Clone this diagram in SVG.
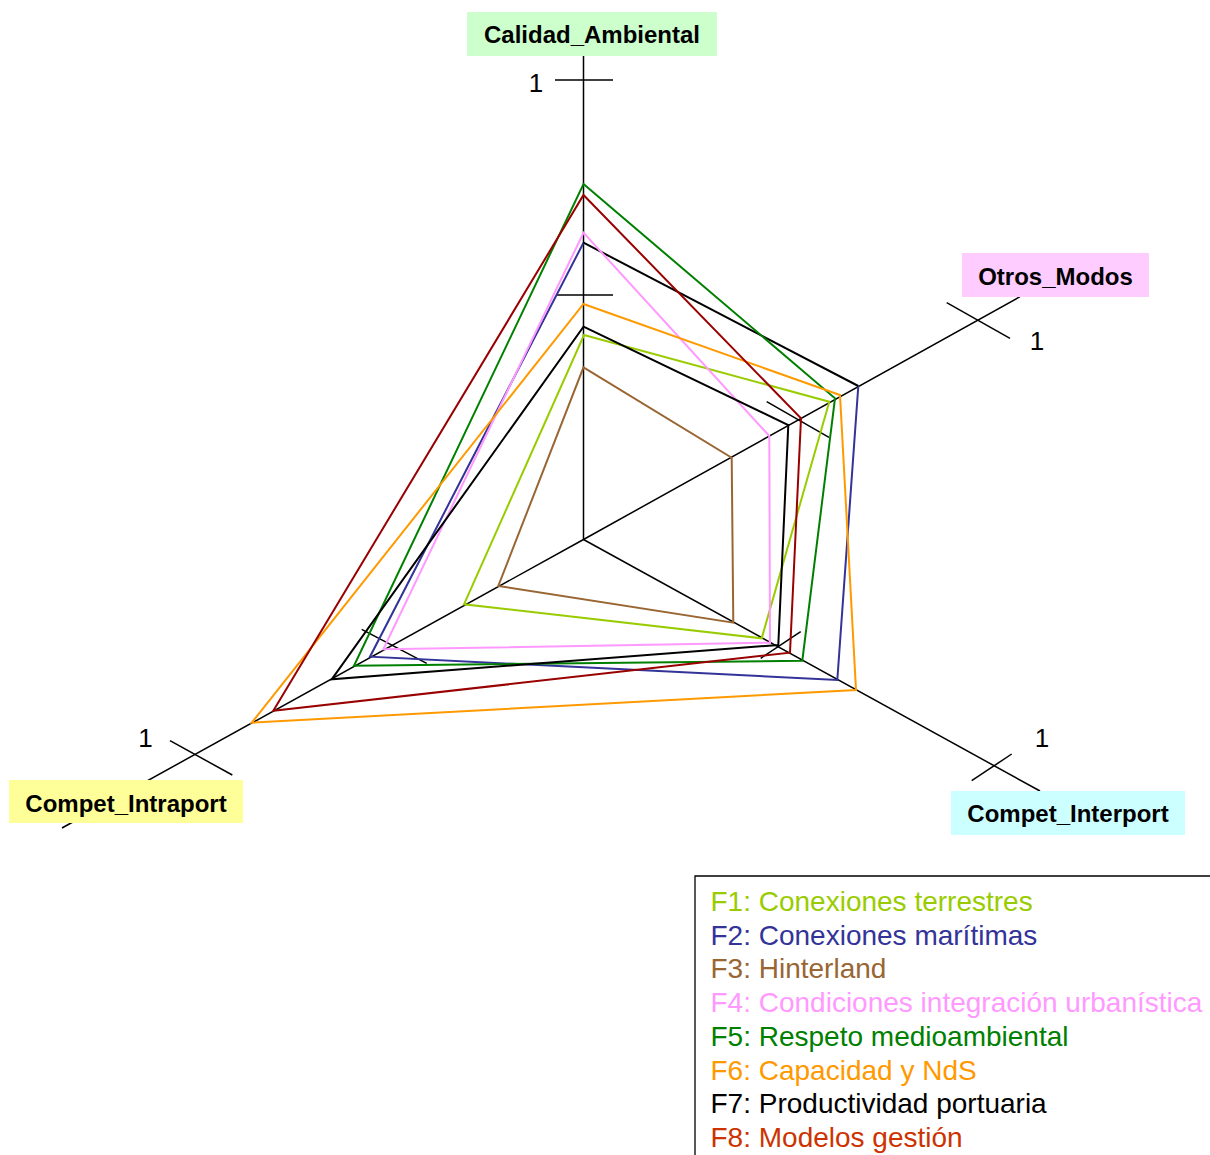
<svg xmlns="http://www.w3.org/2000/svg" width="1210" height="1155" viewBox="0 0 1210 1155">
  <style>
    .axis { stroke: #000; stroke-width: 1.5; fill: none; }
    .series { fill: none; stroke-width: 2; stroke-linejoin: miter; }
    .lbl { font-family: "Liberation Sans", Arial, sans-serif; font-weight: bold; font-size: 24px; fill: #000; text-anchor: middle; }
    .one { font-family: "Liberation Sans", Arial, sans-serif; font-size: 26px; fill: #000; text-anchor: middle; }
    .leg { font-family: "Liberation Sans", Arial, sans-serif; font-size: 28px; }
  </style>
  <rect width="1210" height="1155" fill="#fff"/>

  <!-- axes and tick marks -->
  <g id="axes">
    <line class="axis" x1="583.5" y1="539.5" x2="583.5" y2="56"/>
    <line class="axis" x1="583.5" y1="539.5" x2="1020" y2="296.7"/>
    <line class="axis" x1="583.5" y1="539.5" x2="1040" y2="791"/>
    <line class="axis" x1="583.5" y1="539.5" x2="62" y2="828"/>
    <!-- full scale ticks -->
    <line class="axis" x1="555" y1="80" x2="613" y2="80"/>
    <line class="axis" x1="946.7" y1="302.7" x2="1010" y2="338.3"/>
    <line class="axis" x1="971.7" y1="780.7" x2="1011.7" y2="754"/>
    <line class="axis" x1="170" y1="740.7" x2="232.3" y2="775"/>
    <!-- mid ticks -->
    <line class="axis" x1="556" y1="295" x2="613" y2="295"/>
    <line class="axis" x1="766.7" y1="401.7" x2="829" y2="437.3"/>
    <line class="axis" x1="760.7" y1="658.3" x2="800.7" y2="631.7"/>
    <line class="axis" x1="361.7" y1="629.3" x2="426.7" y2="663.3"/>
    <!-- scale values -->
    <text class="one" x="536" y="92">1</text>
    <text class="one" x="1037" y="350">1</text>
    <text class="one" x="1042" y="747">1</text>
    <text class="one" x="145.5" y="747">1</text>
  </g>

  <!-- data series -->
  <g id="connectors">
    <polygon id="f1" class="series" stroke="#99cc00" points="584,335 829.3,401.7 761.7,638.3 464,604.3"/>
    <polyline id="f2" class="series" stroke="#333399" points="858.3,386 837.3,680 370,656.7 583.5,242.7"/>
    <line class="series" stroke="#000" x1="583.5" y1="242.7" x2="858.3" y2="386"/>
    <polygon id="f3" class="series" stroke="#996633" points="583.5,367.3 731.7,457.7 733.3,622.7 498.3,586"/>
    <polygon id="f4" class="series" stroke="#ff99ff" points="583.5,232.7 769.3,436 770,642.7 383.3,649.3"/>
    <polygon id="f5" class="series" stroke="#008000" points="583.5,184 835,398.3 802.3,660.7 354,665.7"/>
    <polygon id="f6" class="series" stroke="#ff9900" points="583.5,304 840,395 856,690 251.7,722.7"/>
    <polygon id="f7" class="series" stroke="#000000" points="583.5,326.7 788.3,425 778.3,645 331.7,679.3"/>
    <polygon id="f8" class="series" stroke="#990000" points="583.5,195 801,418.3 790,652.7 273.3,710.7"/>
  </g>

  <!-- axis labels -->
  <g id="calidad_ambiental">
    <rect x="467" y="12" width="250" height="44" fill="#ccffcc"/>
    <text class="lbl" x="592" y="43">Calidad_Ambiental</text>
  </g>
  <g id="otros_modos">
    <rect x="962" y="253" width="187" height="44" fill="#ffccff"/>
    <text class="lbl" x="1055.5" y="285">Otros_Modos</text>
  </g>
  <g id="compet_interport">
    <rect x="951" y="791" width="234" height="44" fill="#ccffff"/>
    <text class="lbl" x="1068" y="822">Compet_Interport</text>
  </g>
  <g id="compet_intraport">
    <rect x="9" y="780" width="234" height="43" fill="#ffff99"/>
    <text class="lbl" x="126" y="812">Compet_Intraport</text>
  </g>

  <!-- legend -->
  <g id="legend">
    <polyline points="1210,876 695,876 695,1155" fill="none" stroke="#000" stroke-width="1.3"/>
    <text class="leg" x="710.5" y="911" fill="#99cc00">F1: Conexiones terrestres</text>
    <text class="leg" x="710.5" y="944.7" fill="#333399">F2: Conexiones marítimas</text>
    <text class="leg" x="710.5" y="978.4" fill="#996633">F3: Hinterland</text>
    <text class="leg" x="710.5" y="1012.1" fill="#ff99ff">F4: Condiciones integración urbanística</text>
    <text class="leg" x="710.5" y="1045.8" fill="#008000">F5: Respeto medioambiental</text>
    <text class="leg" x="710.5" y="1079.5" fill="#ff9900">F6: Capacidad y NdS</text>
    <text class="leg" x="710.5" y="1113.2" fill="#000000">F7: Productividad portuaria</text>
    <text class="leg" x="710.5" y="1146.9" fill="#cc3300">F8: Modelos gestión</text>
  </g>
</svg>
